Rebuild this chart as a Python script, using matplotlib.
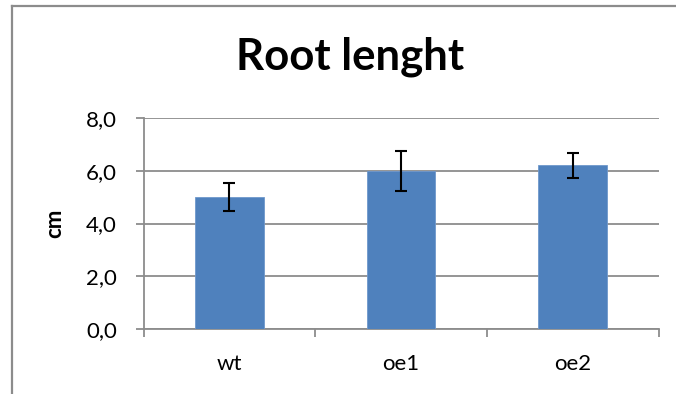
import matplotlib
matplotlib.use("Agg")
import matplotlib.pyplot as plt
from matplotlib.lines import Line2D

plt.rcParams['font.family'] = ['Lato', 'DejaVu Sans']

categories = ["wt", "oe1", "oe2"]
values = [5.0, 6.0, 6.2]
errors = [0.52, 0.75, 0.47]
yticks = [0.0, 2.0, 4.0, 6.0, 8.0]
ytick_labels = ["0,0", "2,0", "4,0", "6,0", "8,0"]

W, H = 676, 394
fig = plt.figure(figsize=(W / 100, H / 100), dpi=100)
fig.patch.set_facecolor("white")

ax = fig.add_axes([143.5 / W, 1 - 329 / H, (658.7 - 143.5) / W, (329 - 118) / H])

grid_col = "#8c8c8c"
x = range(len(categories))
ax.bar(x, values, width=0.40, color="#4F81BD", edgecolor="#6f98cc", linewidth=0.6, zorder=3)
ax.errorbar(x, values, yerr=errors, fmt="none", ecolor="black", elinewidth=1.5,
            capsize=4.5, capthick=1.5, zorder=4)

ax.set_xlim(-0.5, len(categories) - 0.5)
ax.set_ylim(0, 8)
ax.set_yticks(yticks)
ax.set_yticklabels(ytick_labels)
ax.set_xticks([-0.5, 0.5, 1.5, 2.5], minor=False)
ax.set_xticklabels([])
ax.set_xticks(list(x), minor=True)
ax.set_xticklabels(categories, minor=True)

ax.yaxis.grid(True, color=grid_col, linewidth=1.3, zorder=0)
ax.set_axisbelow(True)
for s in ["top", "right"]:
    ax.spines[s].set_visible(False)
for s in ["left", "bottom"]:
    ax.spines[s].set_color(grid_col)
    ax.spines[s].set_linewidth(1.3)

ax.tick_params(axis="y", which="major", length=6, width=1.3, color=grid_col,
               labelsize=16, pad=13, labelcolor="black")
ax.tick_params(axis="x", which="major", length=6, width=1.3, color=grid_col)
ax.tick_params(axis="x", which="minor", length=0, labelsize=16, pad=18, labelcolor="black")

ax.set_ylabel("cm", fontsize=16, fontweight="bold")
ax.yaxis.set_label_coords((65 - 143.5) / 515.2, 0.5)

fig.text(350 / W, 1 - 57 / H, "Root lenght", fontsize=31.5, fontweight="bold",
         ha="center", va="center")

# outer chart frame
fig.add_artist(Line2D([11.5 / W, 11.5 / W], [0, 1 - 5.5 / H], transform=fig.transFigure,
                      color="#8c8c8c", linewidth=1.6))
fig.add_artist(Line2D([11.5 / W, 1], [1 - 5.5 / H, 1 - 5.5 / H], transform=fig.transFigure,
                      color="#8c8c8c", linewidth=1.6))

fig.savefig("out.png", dpi=100, facecolor="white")
